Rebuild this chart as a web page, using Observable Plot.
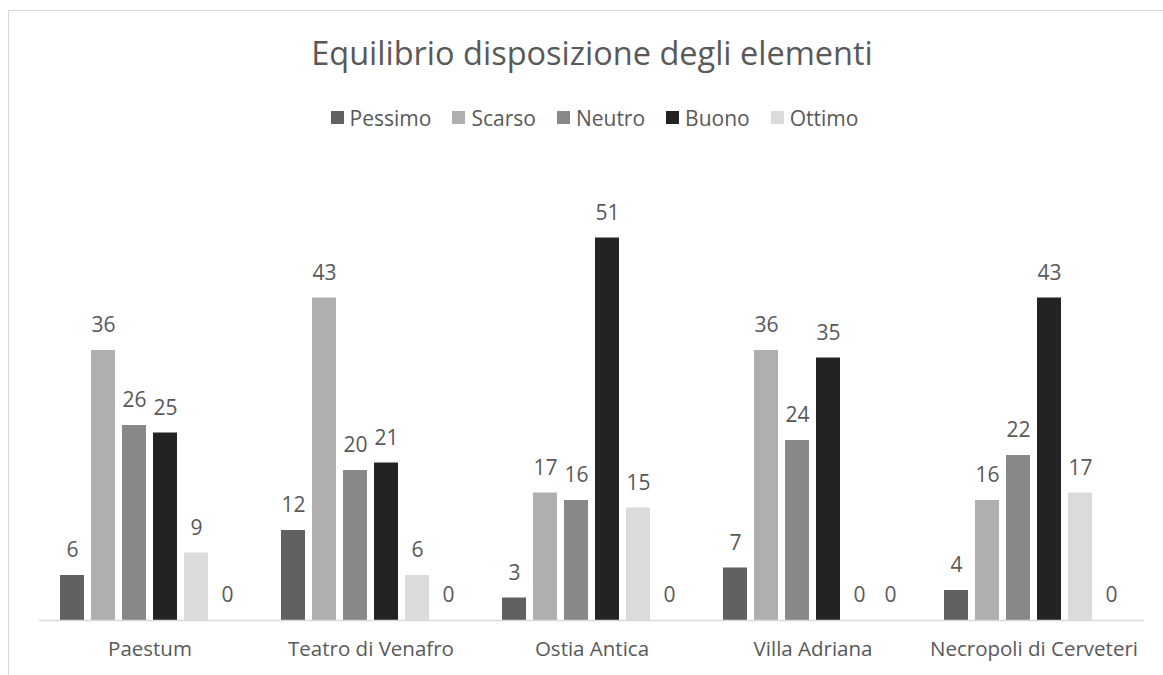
<!DOCTYPE html>
<html>
<head>
<meta charset="utf-8">
<script src="https://cdn.jsdelivr.net/npm/d3@7"></script>
<script src="https://cdn.jsdelivr.net/npm/@observablehq/plot@0.6"></script>
<style>
  html, body { margin: 0; padding: 0; background: #fff; overflow: hidden; }
  body { width: 1163px; height: 675px; position: relative; font-family: "Open Sans", sans-serif; color: #595959; }
  #frame { position: absolute; left: 8px; top: 10px; width: 1200px; height: 700px;
           border-top: 1px solid #d9d9d9; border-left: 1px solid #d9d9d9; pointer-events: none; }
  #title { box-sizing: border-box; width: 1163px; padding-left: 21px; height: 100px;
           text-align: center; font-size: 32.5px; line-height: 1; padding-top: 37px; margin: 0; font-weight: 400; white-space: nowrap; }
  #legend { box-sizing: border-box; width: 1163px; padding-left: 26px; height: 35px;
            display: flex; justify-content: center; align-items: center; gap: 21px; font-size: 21px; }
  .item { display: flex; align-items: center; gap: 6px; }
  .swatch { width: 13px; height: 13px; display: inline-block; }
  #chart svg { display: block; }
</style>
</head>
<body>
<div id="frame"></div>
<div id="title">Equilibrio disposizione degli elementi</div>
<div id="legend"></div>
<div id="chart"></div>
<script>
// Sites along the horizontal axis
const sites = ["Paestum", "Teatro di Venafro", "Ostia Antica", "Villa Adriana", "Necropoli di Cerveteri"];
// Rating series (the sixth series is empty and has no legend entry)
const series = ["Pessimo", "Scarso", "Neutro", "Buono", "Ottimo", "Serie6"];
const legendSeries = ["Pessimo", "Scarso", "Neutro", "Buono", "Ottimo"];
const colors = ["#616161", "#afafaf", "#888888", "#232323", "#dbdbdb", "#4a4a4a"];

// Values per series, one per site
const pessimo = [6, 12, 3, 7, 4];
const scarso  = [36, 43, 17, 36, 16];
const neutro  = [26, 20, 16, 24, 22];
const buono   = [25, 21, 51, 35, 43];
const ottimo  = [9, 6, 15, 0, 17];
const serie6  = [0, 0, 0, 0, 0];

const valuesBySeries = [pessimo, scarso, neutro, buono, ottimo, serie6];
const data = [];
sites.forEach((site, i) => {
  series.forEach((s, j) => data.push({site, series: s, value: valuesBySeries[j][i]}));
});

// Legend
const legend = document.getElementById("legend");
legendSeries.forEach((s) => {
  const item = document.createElement("div");
  item.className = "item";
  const sw = document.createElement("span");
  sw.className = "swatch";
  sw.style.background = colors[series.indexOf(s)];
  const label = document.createElement("span");
  label.textContent = s;
  item.appendChild(sw);
  item.appendChild(label);
  legend.appendChild(item);
});

const textColor = "#595959";
const chart = Plot.plot({
  width: 1163,
  height: 540,
  marginTop: 35,
  marginBottom: 55,
  marginLeft: 37,
  marginRight: 18,
  style: {fontFamily: "'Open Sans', sans-serif", color: textColor, background: "transparent"},
  fx: {domain: sites, padding: 0, label: null},
  x: {domain: series, axis: null, paddingInner: 0.22, paddingOuter: 0.617},
  y: {domain: [0, 60], axis: null},
  color: {domain: series, range: colors},
  marks: [
    Plot.barY(data, {fx: "site", x: "series", y: "value", fill: "series"}),
    Plot.ruleY([0], {stroke: "#d9d9d9", strokeWidth: 1.5}),
    Plot.text(data, {fx: "site", x: "series", y: "value", text: (d) => String(d.value),
                     dy: -25, fontSize: 21, fill: textColor}),
    Plot.axisFx({anchor: "bottom", tickSize: 0, tickPadding: 21, fontSize: 20.5, label: null, fill: textColor})
  ]
});
document.getElementById("chart").appendChild(chart);
</script>
</body>
</html>
